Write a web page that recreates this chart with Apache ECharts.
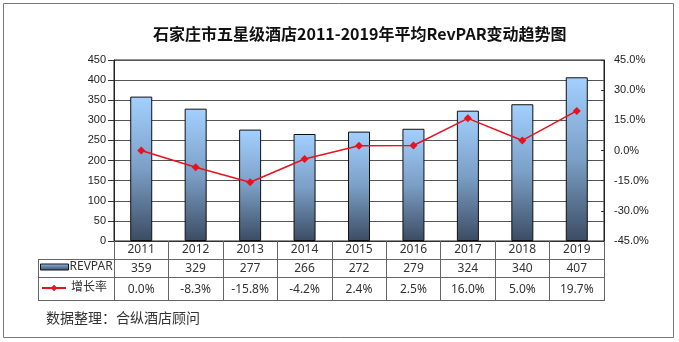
<!DOCTYPE html>
<html><head><meta charset="utf-8">
<script src="https://cdn.jsdelivr.net/npm/echarts@6/dist/echarts.min.js"></script>
<style>html,body{margin:0;padding:0;background:#fff}#c{width:679px;height:342px}</style>
</head><body><div id="c"></div>
<script>
const titleText = '石家庄市五星级酒店2011-2019年平均RevPAR变动趋势图';
const sourceText = '数据整理：合纵酒店顾问';
const categories = ['2011','2012','2013','2014','2015','2016','2017','2018','2019'];
const revpar = [359, 329, 277, 266, 272, 279, 324, 340, 407];
const growth = [0.0, -8.3, -15.8, -4.2, 2.4, 2.5, 16.0, 5.0, 19.7];
const seriesNames = ['REVPAR', '增长率'];

const chart = echarts.init(document.getElementById('c'), null, {renderer: 'canvas'});
const lineC = '#666';
const tableFont = '"Noto Sans", "Noto Sans CJK SC", sans-serif';
const barGrad = new echarts.graphic.LinearGradient(0, 0, 0, 1, [
  {offset: 0, color: '#a3d0ff'},
  {offset: 0.5, color: '#7b9fc6'},
  {offset: 1, color: '#3b4c63'}
]);
const iconGrad = new echarts.graphic.LinearGradient(0, 0, 0, 1, [
  {offset: 0, color: '#a9cdef'},
  {offset: 0.35, color: '#6f8fb3'},
  {offset: 1, color: '#3e506a'}
]);
const option = {
  animation: false,
  title: {
    text: titleText, left: 148, top: 21,
    textStyle: {fontSize: 16, fontWeight: 'bold', color: '#111', fontFamily: '"Noto Sans CJK SC", sans-serif'}
  },
  legend: [
    {data: [{name: seriesNames[0], icon: 'rect', itemStyle: {color: iconGrad, borderColor: '#111', borderWidth: 1}}],
     left: 40, top: 261, padding: 0, itemWidth: 28, itemHeight: 6, itemGap: 2,
     textStyle: {fontSize: 12, color: '#333', fontFamily: tableFont, padding: [0,0,0,-4]}},
    {data: [seriesNames[1]], left: 41, top: 282, padding: 0, itemWidth: 24, itemHeight: 8,
     textStyle: {fontSize: 12, color: '#333', fontFamily: tableFont}}
  ],
  grid: {left: 114, right: 75, top: 60, bottom: 101, show: true, borderColor: '#222', borderWidth: 1},
  xAxis: {
    type: 'category', data: categories, boundaryGap: true,
    axisLine: {show: true, lineStyle: {color: '#333'}},
    axisTick: {show: true, length: 60, lineStyle: {color: lineC}},
    axisLabel: {
      interval: 0, margin: 0,
      formatter: function (v, i) {
        return '{a|' + v + '}\n{b|' + revpar[i] + '}\n{c|' + growth[i].toFixed(1) + '%}';
      },
      rich: {
        a: {lineHeight: 18, fontSize: 12, color: '#333', fontFamily: tableFont},
        b: {lineHeight: 19, fontSize: 12, color: '#333', fontFamily: tableFont},
        c: {lineHeight: 23, fontSize: 12, color: '#333', fontFamily: tableFont}
      }
    }
  },
  yAxis: [
    {type: 'value', min: 0, max: 450, interval: 50,
     axisLine: {show: true, lineStyle: {color: '#222'}},
     axisTick: {show: true, length: 6, lineStyle: {color: '#333'}},
     axisLabel: {margin: 8, fontSize: 11, color: '#222', fontFamily: '"Liberation Sans", Arial, sans-serif'},
     splitLine: {show: true, lineStyle: {color: '#555', width: 1}}},
    {type: 'value', min: -45, max: 45, interval: 15,
     axisLine: {show: true, lineStyle: {color: '#222'}},
     axisTick: {show: true, inside: true, length: 3, lineStyle: {color: '#333'}},
     axisLabel: {margin: 10, fontSize: 11, color: '#222', fontFamily: '"Liberation Sans", Arial, sans-serif',
       formatter: function (v) { return v.toFixed(1) + '%'; }},
     splitLine: {show: false}}
  ],
  series: [
    {name: seriesNames[0], type: 'bar', data: revpar, barWidth: 22, yAxisIndex: 0,
     itemStyle: {color: barGrad, borderColor: '#111', borderWidth: 1}},
    {name: seriesNames[1], type: 'line', data: growth, yAxisIndex: 1,
     symbol: 'diamond', symbolSize: 8,
     lineStyle: {color: '#e8121e', width: 1.5},
     itemStyle: {color: '#e8121e'}}
  ],
  graphic: [
    {type: 'rect', shape: {x: 3.5, y: 3.5, width: 670, height: 334}, style: {fill: 'none', stroke: '#777', lineWidth: 1}},
    {type: 'line', shape: {x1: 38, y1: 259.5, x2: 604, y2: 259.5}, style: {stroke: lineC, lineWidth: 1}},
    {type: 'line', shape: {x1: 38, y1: 277.5, x2: 604, y2: 277.5}, style: {stroke: lineC, lineWidth: 1}},
    {type: 'line', shape: {x1: 38, y1: 300.5, x2: 604, y2: 300.5}, style: {stroke: lineC, lineWidth: 1}},
    {type: 'line', shape: {x1: 38.5, y1: 259, x2: 38.5, y2: 301}, style: {stroke: lineC, lineWidth: 1}},
    {type: 'text', left: 46, top: 311, style: {text: sourceText, fontSize: 14, fill: '#333', fontFamily: '"Noto Sans CJK SC", sans-serif'}}
  ]
};
chart.setOption(option);
</script>
</body></html>
